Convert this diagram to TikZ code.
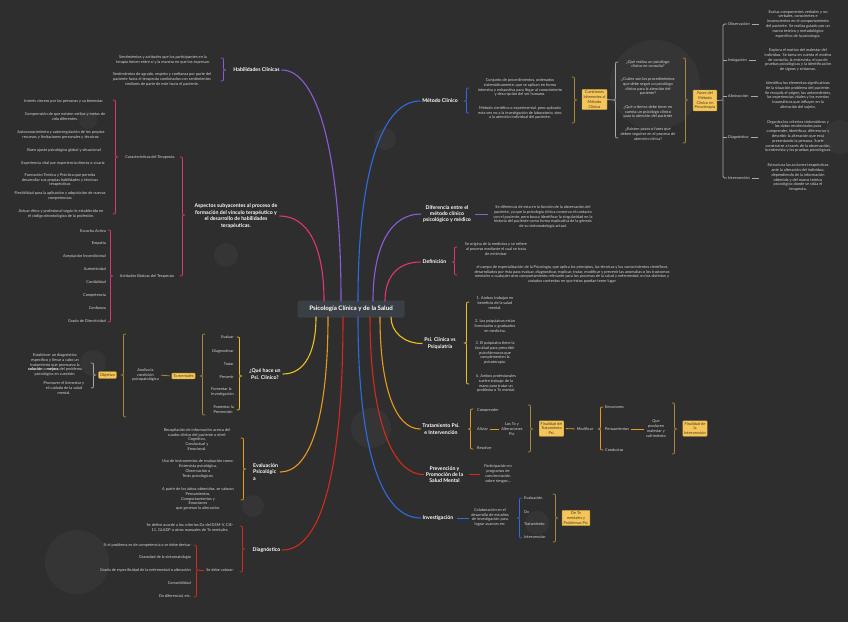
\documentclass[tikz,border=0pt]{standalone}
\usepackage{fontspec}
\setmainfont{Lato}
\usetikzlibrary{calc}
\definecolor{bg}{HTML}{2E2E2E}
\definecolor{bub}{HTML}{353535}
\definecolor{txt}{HTML}{D6D6D6}
\definecolor{cpur}{HTML}{8E5BD8}
\definecolor{cpink}{HTML}{E0357A}
\definecolor{cblue}{HTML}{2F6BE0}
\definecolor{cyel}{HTML}{EDC21E}
\definecolor{cora}{HTML}{E89A1E}
\definecolor{cred}{HTML}{D52A1C}
\definecolor{colive}{HTML}{A8893C}
\definecolor{cgray}{HTML}{A8A8A8}
\definecolor{boxf}{HTML}{F3C55B}
\definecolor{boxd}{HTML}{C99A35}
\definecolor{boxt}{HTML}{4A3A1A}
\definecolor{ctrf}{HTML}{3A3F45}
\tikzset{
 leaf/.style={font=\fontsize{3.9}{4.8}\selectfont, text=txt, align=center, inner sep=0pt},
 topic/.style={font=\bfseries\fontsize{5.2}{6.4}\selectfont, text=white, align=center, inner sep=2pt},
 ybox/.style={fill=boxf, draw=boxd, line width=0.4pt, rounded corners=0.8pt, text=boxt, font=\fontsize{3.9}{4.8}\selectfont, align=center, inner sep=1.5pt},
 ctrbox/.style={fill=ctrf, rounded corners=2pt, text=white, font=\bfseries\fontsize{6.2}{7}\selectfont, minimum width=107pt, minimum height=17pt, inner sep=1pt},
 branch/.style={line width=1.1pt, line cap=round},
 brl/.style={line width=0.75pt, line cap=round, line join=round},
 dashl/.style={line width=0.8pt, shorten <=2pt, shorten >=2pt},
}
\newcommand\BrR[5]{\draw[#1,brl] (#2,#3) .. controls (#2+2.5,#3) .. (#2+2.5,#3+2.5) -- (#2+2.5,#5-2.5) .. controls (#2+2.5,#5) .. (#2+5,#5) .. controls (#2+2.5,#5) .. (#2+2.5,#5+2.5) -- (#2+2.5,#4-2.5) .. controls (#2+2.5,#4) .. (#2,#4);}
\newcommand\BrL[5]{\draw[#1,brl] (#2,#3) .. controls (#2-2.5,#3) .. (#2-2.5,#3+2.5) -- (#2-2.5,#5-2.5) .. controls (#2-2.5,#5) .. (#2-5,#5) .. controls (#2-2.5,#5) .. (#2-2.5,#5+2.5) -- (#2-2.5,#4-2.5) .. controls (#2-2.5,#4) .. (#2,#4);}
\begin{document}
\begin{tikzpicture}[x=1pt,y=-1pt]
\fill[bg] (0,0) rectangle (848,622);
\useasboundingbox (0,0) rectangle (848,622);
% decorative bubbles
\foreach \cx/\cy/\r in {88/120/9, 385/139/11, 655/85/45, 840/137/17, 93/363/13, 226/255/12, 371/428/20, 77/562/32, 253/506/11, 537/523/12}
  \fill[bub] (\cx,\cy) circle (\r pt);

% center
\node[ctrbox] (ctr) at (351,309) {Psicología Clínica y de la Salud};
\coordinate (e-asp) at (324,301);
\coordinate (e-hab) at (341,301);
\coordinate (e-met) at (358,301);
\coordinate (e-dif) at (373,301);
\coordinate (e-def) at (385,301);
\coordinate (e-que) at (316,317);
\coordinate (e-eva) at (328,317);
\coordinate (e-dia) at (343,317);
\coordinate (e-inv) at (358,317);
\coordinate (e-pre) at (370,317);
\coordinate (e-tra) at (380,317);
\coordinate (e-psi) at (391,317);

% main topics
\node[topic] (hab) at (256.5,70) {Habilidades Clínicas};
\node[topic] (asp) at (236,216) {Aspectos subyacentes al proceso de\\formación del vínculo terapéutico y\\el desarrollo de habilidades\\terapéuticas.};
\node[topic] (que) at (265,374) {¿Qué hace un\\Psi. Clínico?};
\node[topic, align=left, anchor=west] (eva) at (251,472) {Evaluación\\Psicológic\\a};
\node[topic] (dia) at (266.5,550) {Diagnóstico};
\node[topic] (met) at (440,101) {Método Clínico};
\node[topic] (dif) at (447,214) {Diferencia entre el\\método clínico\\psicológico y médico};
\node[topic] (def) at (434.5,262) {Definición};
\node[topic] (psi) at (440,343.5) {Psi. Clínica vs\\Psiquiatría};
\node[topic] (tra) at (441,429) {Tratamiento Psi.\\e Intervención};
\node[topic] (pre) at (444.5,474.5) {Prevención y\\Promoción de la\\Salud Mental};
\node[topic] (inv) at (438,518) {Investigación};

% main branches
\draw[branch,cpur] (hab.east) .. controls +(35,0) and +(0,-150) .. (e-hab);
\draw[branch,cpink] (asp.east) .. controls +(28,0) and +(0,-55) .. (e-asp);
\draw[branch,cyel] (que.east) .. controls +(22,0) and +(0,35) .. (e-que);
\draw[branch,cora] (eva.east) .. controls +(30,0) and +(0,100) .. (e-eva);
\draw[branch,cred] (dia.east) .. controls +(40,0) and +(0,150) .. (e-dia);
\draw[branch,cblue] (met.west) .. controls +(-38,0) and +(0,-130) .. (e-met);
\draw[branch,cpur] (dif.west) .. controls +(-30,0) and +(0,-55) .. (e-dif);
\draw[branch,cpink] (def.west) .. controls +(-22,0) and +(0,-25) .. (e-def);
\draw[branch,cyel] (psi.west) .. controls +(-18,0) and +(0,15) .. (e-psi);
\draw[branch,cora] (tra.west) .. controls +(-25,0) and +(0,70) .. (e-tra);
\draw[branch,cred] (pre.west) .. controls +(-32,0) and +(0,100) .. (e-pre);
\draw[branch,cblue] (inv.west) .. controls +(-40,0) and +(0,130) .. (e-inv);

% Habilidades
\node[leaf] (h1) at (163,59.5) {Sentimientos y actitudes que los participantes en la\\terapia tienen entre sí y la manera en que los expresan.};
\node[leaf] (h2) at (162,79.5) {Sentimientos de agrado, respeto y confianza por parte del\\paciente hacia el terapeuta combinados con sentimientos\\similares de parte de este hacia el paciente.};
\BrR{cpur}{221}{58}{81}{70}

% Aspectos
\node[leaf] (car) at (150,157) {Características del Terapeuta};
\node[leaf] (act) at (147,276) {Actitudes Básicas del Terapeuta};
\BrR{cpink}{180}{157}{276}{215}
\node[leaf] (c1) at (64,101) {Interés sincero por las personas y su bienestar.};
\node[leaf] (c2) at (65,116.5) {Comprensión de que existen estilos y metas de\\vida diferentes.};
\node[leaf] (c3) at (61,134.5) {Autoconocimiento y autorregulación de los propios\\recursos y limitaciones personales y técnicos.};
\node[leaf] (c4) at (64,150) {Buen ajuste psicológico global y situacional};
\node[leaf] (c5) at (63,163) {Experiencia vital por experiencia directa o vicaria};
\node[leaf] (c6) at (60,180) {Formación Teórica y Práctica que permita\\desarrollar sus propias habilidades y técnicas\\terapéuticas};
\node[leaf] (c7) at (60,195.5) {Flexibilidad para la aplicación y adquisición de nuevas\\competencias};
\node[leaf] (c8) at (61,214) {Actuar ético y profesional según lo establecido en\\el código deontológico de la profesión.};
\BrR{cpink}{113}{100}{214}{157}
\node[leaf,anchor=east] (a1) at (106,231) {Escucha Activa};
\node[leaf,anchor=east] (a2) at (106,243) {Empatía};
\node[leaf,anchor=east] (a3) at (106,256) {Aceptación Incondicional};
\node[leaf,anchor=east] (a4) at (106,269) {Autenticidad};
\node[leaf,anchor=east] (a5) at (106,282) {Cordialidad};
\node[leaf,anchor=east] (a6) at (106,295) {Competencia};
\node[leaf,anchor=east] (a7) at (106,308) {Confianza};
\node[leaf,anchor=east] (a8) at (106,321) {Grado de Directividad};
\BrR{cpink}{108}{230}{322}{276}

% Que hace
\BrR{cyel}{237}{337}{410}{376}
\node[leaf,anchor=east] (q1) at (234,337) {Evaluar};
\node[leaf,anchor=east] (q2) at (234,351) {Diagnosticar};
\node[leaf,anchor=east] (q3) at (234,364) {Tratar};
\node[leaf,anchor=east] (q4) at (234,377) {Prevenir};
\node[leaf,anchor=east,align=left] (q5) at (234,392) {Fomentar la\\Investigación};
\node[leaf,anchor=east,align=left] (q6) at (234,409.5) {Fomentar la\\Prevención};
\BrL{colive}{205}{334}{415}{376}
\node[ybox] (tx) at (183.5,376) {Tx mentales};
\node[leaf] (ana) at (145.5,375) {Analiza la\\condición\\psicopatológica};
\draw[colive,dashl] (tx.west) -- (ana.east);
\BrL{colive}{126}{334}{417}{375}
\node[ybox] (obj) at (107.5,375) {Objetivo};
\BrR{cgray}{91}{363}{388}{375}
\node[leaf] (o1) at (55,365) {Establecer un diagnóstico\\específico y llevar a cabo un\\tratamiento que promueva la\\{\bfseries\color{white}solución} o {\bfseries\color{white}mejora} del problema\\psicológico en cuestión.};
\node[leaf] (o2) at (64,388) {Promover el bienestar y\\el cuidado de la salud\\mental.};

% Evaluacion
\BrR{cora}{241}{438}{500}{469}
\node[leaf] (ev1) at (197,439.5) {Recopilación de información acerca del\\cuadro clínico del paciente a nivel:\\Cognitivo,\\Conductual y\\Emocional.};
\node[leaf] (ev2) at (198,469) {Uso de instrumentos de evaluación como:\\Entrevista psicológica,\\Observación o\\Tests psicológicos.};
\node[leaf] (ev3) at (198,499) {A partir de los datos obtenidos, se valoran\\Pensamientos,\\Comportamientos y\\Emociones\\que generan la alteración.};

% Diagnostico
\BrR{cred}{240}{526}{572}{549}
\node[leaf] (d1) at (190,527.5) {Se define acorde a los criterios Dx del DSM-V, CIE-\\11, GLADP u otros manuales de Tx mentales.};
\node[leaf] (d2) at (220,570) {Se debe valorar:};
\BrR{cred}{194}{545}{597}{570}
\coordinate (d2t) at (199,570);
\draw[cred,line width=0.75pt] (d2t) -- ([xshift=-2pt]d2.west);
\node[leaf,anchor=east] (dv1) at (191,545) {Si el problema es de competencia o se debe derivar};
\node[leaf,anchor=east] (dv2) at (191,557) {Gravedad de la sintomatología};
\node[leaf,anchor=east] (dv3) at (191,570) {Grado de especificidad de la enfermedad o alteración};
\node[leaf,anchor=east] (dv4) at (191,583) {Comorbilidad};
\node[leaf,anchor=east] (dv5) at (191,596) {Dx diferencial, etc.};

% Metodo clinico
\BrL{cblue}{469}{88}{113}{101}
\node[leaf] (m1) at (520,87.5) {Conjunto de procedimientos, ordenados\\sistemáticamente, que se aplican en forma\\intensiva y exhaustiva para llegar al conocimiento\\y descripción del ser humano.};
\node[leaf] (m2) at (520,113) {Método científico o experimental, pero aplicado\\esta vez no a la investigación de laboratorio, sino\\a la atención individual del paciente.};
\BrR{colive}{572}{77}{123}{100}
\node[ybox] (cue) at (594.5,99.5) {Cuestiones\\Inherentes al\\Método\\Clínico};
\BrL{cgray}{618}{62}{138}{100}
\coordinate (cuet) at (613,100);
\draw[cgray,line width=0.75pt] (cue.east) -- (cuet);
\node[leaf] (qq1) at (648,64) {¿Qué realiza un psicólogo\\clínico en consulta?};
\node[leaf] (qq2) at (648,86.5) {¿Cuáles son los procedimientos\\que debe seguir un psicólogo\\clínico para la atención del\\paciente?};
\node[leaf] (qq3) at (648,112) {¿Qué criterios debe tener en\\cuenta un psicólogo clínico\\para la atención del paciente};
\node[leaf] (qq4) at (648,134) {¿Existen pasos o fases que\\deben seguirse en el proceso de\\atención clínica?};
\BrR{colive}{683}{58}{143}{100}
\node[ybox] (fas) at (705,100.5) {Fases del\\Método\\Clínico en\\Psicoterapia};
\coordinate (ft) at (723,100);
\draw[cgray,line width=0.75pt] (fas.east) -- (ft);
\draw[cgray,line width=0.75pt,rounded corners=1.5pt] (727,24) -| (723,178) -- (727,178);
\foreach \yy in {60,96,137} \draw[cgray,line width=0.75pt] (723,\yy) -- (727,\yy);
\node[leaf,anchor=west] (ph1) at (728,24) {Observación};
\node[leaf,anchor=west] (ph2) at (728,60) {Indagación};
\node[leaf,anchor=west] (ph3) at (728,96) {Abstracción};
\node[leaf,anchor=west] (ph4) at (728,137) {Diagnóstico};
\node[leaf,anchor=west] (ph5) at (728,178) {Intervención};
\node[leaf] (pd1) at (798,24) {Evalua componentes verbales y no\\verbales, conscientes e\\inconscientes en el comportamiento\\del paciente. Se realiza guiado por un\\marco teórico y metodológico\\específico de la psicología.};
\node[leaf] (pd2) at (798,60) {Explora el motivo del malestar del\\individuo. Se toma en cuenta el motivo\\de consulta, la entrevista, el uso de\\pruebas psicológicas y la identificación\\de signos y síntomas.};
\node[leaf] (pd3) at (798,95.5) {Identifica los elementos significativos\\de la situación problema del paciente.\\Se recopila el origen, los antecedentes,\\las experiencias vitales y los eventos\\traumáticos que influyen en la\\alteración del sujeto.};
\node[leaf] (pd4) at (798,136.5) {Organiza los criterios sintomáticos y\\los datos recolectados para\\comprender, identificar, diferenciar y\\describir la alteración que está\\presentando la persona. Suele\\construirse a través de la observación,\\la entrevista y las pruebas psicológicas.};
\node[leaf] (pd5) at (798,177.5) {Estructura las acciones terapéuticas\\ante la alteración del individuo,\\dependiendo de la información\\obtenida y del marco teórico\\psicológico donde se sitúa el\\terapeuta.};
\draw[cgray,line width=0.75pt] ([xshift=2pt]ph1.east) -- ++(7,0);
\draw[cgray,line width=0.75pt] ([xshift=2pt]ph2.east) -- ++(7,0);
\draw[cgray,line width=0.75pt] ([xshift=2pt]ph3.east) -- ++(7,0);
\draw[cgray,line width=0.75pt] ([xshift=2pt]ph4.east) -- ++(7,0);
\draw[cgray,line width=0.75pt] ([xshift=2pt]ph5.east) -- ++(7,0);

% Diferencia
\node[leaf] (difd) at (543,217) {Se diferencia de esta en la función de la observación del\\paciente, ya que la psicología clínica conserva el contacto\\con el paciente, pero busca identificar la singularidad en la\\historia del paciente como forma explicativa de la génesis\\de su sintomatología actual.};
\draw[cpur,dashl,shorten >=5pt] (dif.east) -- (difd.west |- dif.east);

% Definicion
\BrL{cpink}{457}{247}{275}{262}
\node[leaf] (df1) at (496,249) {Se origina de la medicina y se refiere\\al proceso mediante el cual se trata\\de minimizar};
\node[leaf] (df2) at (572,274.5) {el campo de especialización de la Psicología, que aplica los principios, las técnicas y los conocimientos científicos\\desarrollados por ésta para evaluar, diagnosticar, explicar, tratar, modificar y prevenir las anomalías o los trastornos\\mentales o cualquier otro comportamiento relevante para los procesos de la salud y enfermedad, en los distintos y\\variados contextos en que éstos puedan tener lugar};

% Psi vs Psiquiatria
\BrL{cyel}{469}{302}{384}{343}
\node[leaf] (p1) at (495,303) {1. Ambos trabajan en\\beneficio de la salud\\mental.};
\node[leaf] (p2) at (495,326) {2. Los psiquiatras están\\licenciados o graduados\\en medicina.};
\node[leaf] (p3) at (495,353) {3. El psiquiatra tiene la\\facultad para prescribir\\psicofármacos que\\complementen la\\psicoterapia.};
\node[leaf] (p4) at (496,383.5) {4. Ambos profesionales\\suelen trabajar de la\\mano para tratar un\\problema o Tx mental.};

% Tratamiento
\BrL{cora}{473}{409}{449}{429}
\node[leaf,anchor=west] (tr1) at (477,410) {Comprender};
\node[leaf,anchor=west] (tr2) at (477,429) {Aliviar};
\node[leaf,anchor=west] (tr3) at (477,448) {Resolver};
\node[leaf] (tr4) at (512,429) {Los Tx y\\Alteraciones\\Psi.};
\draw[cora,dashl] (tr2.east) -- (tr4.west |- tr2.east);
\BrR{colive}{528}{405}{452}{429}
\node[ybox] (fin) at (551.5,428.5) {Finalidad del\\Tratamiento\\Psi.};
\node[leaf] (mod) at (585,429) {Modificar};
\draw[cora,dashl] (fin.east) -- (mod.west);
\BrL{cora}{603}{407}{450}{429}
\node[leaf,anchor=west] (em) at (605,407) {Emociones};
\node[leaf,anchor=west] (pe) at (605,429) {Pensamientos};
\node[leaf,anchor=west] (co) at (605,450) {Conductas};
\node[leaf] (qp) at (656,428.5) {Que\\producen\\malestar y\\sufrimiento};
\draw[cora,dashl] (pe.east) -- (qp.west |- pe.east);
\BrR{colive}{672}{403}{454}{429}
\node[ybox] (fin2) at (695,428.5) {Finalidad de\\la\\Intervención};

% Prevencion
\node[leaf] (pr1) at (498,474) {Participación en\\programas de\\concienciación\\sobre riesgos...};
\draw[cred,dashl,shorten <=4pt,shorten >=4pt] (pre.east) -- (pr1.west |- pre.east);

% Investigacion
\node[leaf] (col) at (490,517.5) {Colaboración en el\\desarrollo de estudios\\de investigación para\\lograr avances en:};
\draw[cblue,dashl] (inv.east) -- (col.west |- inv.east);
\BrL{cblue}{522}{498}{538}{518}
\node[leaf,anchor=west] (iv1) at (524,498) {Evaluación};
\node[leaf,anchor=west] (iv2) at (524,512) {Dx};
\node[leaf,anchor=west] (iv3) at (524,524) {Tratamiento};
\node[leaf,anchor=west] (iv4) at (524,537) {Intervención};
\BrR{colive}{553}{494}{542}{518}
\node[ybox] (inb) at (576,518) {De Tx\\mentales y\\Problemas Psi.};
\end{tikzpicture}
\end{document}
